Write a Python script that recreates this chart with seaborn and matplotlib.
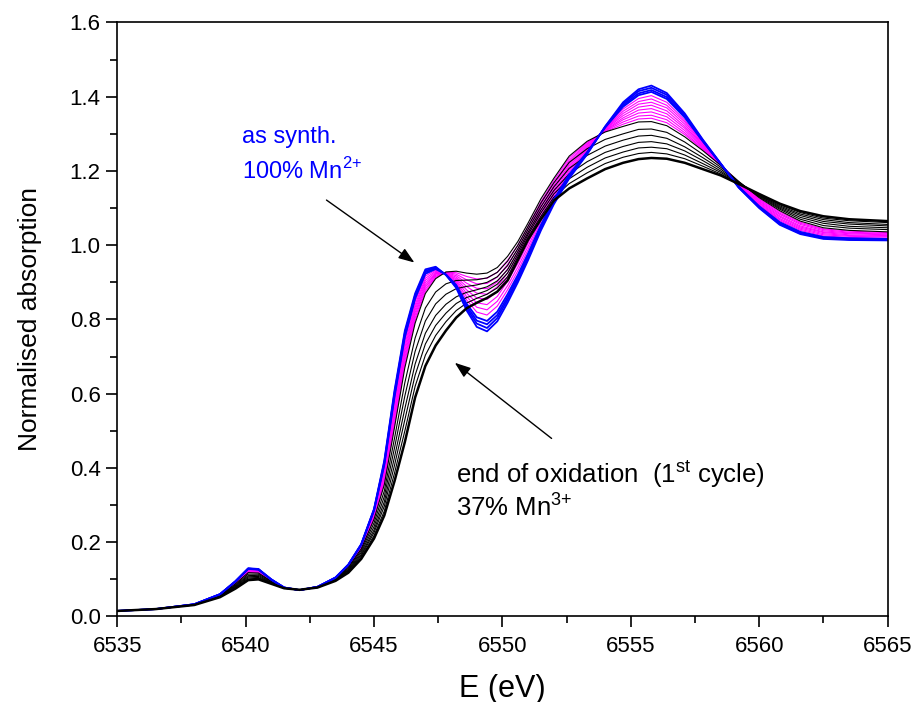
import pandas as pd
import matplotlib.pyplot as plt
import seaborn as sns
from matplotlib.ticker import MultipleLocator

# Energy grid (eV)
energy = [6535, 6536.5, 6538, 6539, 6539.6, 6540.1, 6540.5, 6541, 6541.5, 6542.1,
          6542.8, 6543.5, 6544, 6544.5, 6545, 6545.4, 6545.8, 6546.2, 6546.6, 6547,
          6547.4, 6547.8, 6548.2, 6548.6, 6549, 6549.4, 6549.8, 6550.2, 6550.6, 6551,
          6551.5, 6552, 6552.6, 6553.3, 6554, 6554.7, 6555.3, 6555.8, 6556.4, 6557.1,
          6557.8, 6558.5, 6559.2, 6560, 6560.8, 6561.6, 6562.5, 6563.5, 6565]

# as synthesised spectra (blue)
blue_1 = [0.015, 0.020, 0.033, 0.060, 0.095, 0.130, 0.128, 0.100, 0.078, 0.071,
          0.080, 0.105, 0.140, 0.195, 0.290, 0.420, 0.610, 0.770, 0.870, 0.935,
          0.942, 0.920, 0.885, 0.825, 0.780, 0.768, 0.795, 0.845, 0.900, 0.960,
          1.040, 1.110, 1.180, 1.245, 1.320, 1.385, 1.420, 1.430, 1.410, 1.355,
          1.285, 1.220, 1.155, 1.100, 1.055, 1.030, 1.017, 1.014, 1.013]
blue_2 = [0.015, 0.020, 0.033, 0.060, 0.095, 0.129, 0.127, 0.100, 0.078, 0.071,
          0.080, 0.105, 0.140, 0.194, 0.288, 0.416, 0.604, 0.764, 0.865, 0.931,
          0.940, 0.920, 0.888, 0.831, 0.789, 0.777, 0.804, 0.853, 0.907, 0.966,
          1.045, 1.114, 1.184, 1.247, 1.319, 1.381, 1.415, 1.424, 1.405, 1.351,
          1.283, 1.220, 1.156, 1.102, 1.057, 1.032, 1.019, 1.016, 1.014]
blue_3 = [0.015, 0.020, 0.033, 0.060, 0.094, 0.129, 0.127, 0.099, 0.078, 0.071,
          0.080, 0.105, 0.139, 0.193, 0.287, 0.412, 0.598, 0.758, 0.860, 0.927,
          0.938, 0.921, 0.890, 0.837, 0.797, 0.787, 0.812, 0.860, 0.913, 0.972,
          1.050, 1.118, 1.187, 1.249, 1.318, 1.377, 1.409, 1.418, 1.399, 1.347,
          1.281, 1.219, 1.157, 1.103, 1.060, 1.034, 1.021, 1.017, 1.016]
blue_4 = [0.015, 0.020, 0.033, 0.060, 0.094, 0.128, 0.126, 0.099, 0.078, 0.071,
          0.080, 0.104, 0.139, 0.193, 0.285, 0.408, 0.592, 0.752, 0.856, 0.923,
          0.936, 0.921, 0.893, 0.843, 0.806, 0.796, 0.821, 0.868, 0.920, 0.978,
          1.055, 1.123, 1.191, 1.251, 1.317, 1.373, 1.404, 1.413, 1.394, 1.344,
          1.280, 1.219, 1.158, 1.105, 1.062, 1.036, 1.022, 1.019, 1.017]

# first charge spectra (magenta)
magenta_1 = [0.015, 0.020, 0.033, 0.059, 0.093, 0.127, 0.125, 0.099, 0.078, 0.071,
             0.080, 0.104, 0.138, 0.191, 0.282, 0.402, 0.582, 0.742, 0.848, 0.917,
             0.933, 0.922, 0.898, 0.853, 0.820, 0.812, 0.836, 0.880, 0.931, 0.988,
             1.064, 1.130, 1.197, 1.255, 1.316, 1.367, 1.395, 1.403, 1.385, 1.337,
             1.277, 1.219, 1.160, 1.108, 1.066, 1.040, 1.025, 1.021, 1.019]
magenta_2 = [0.015, 0.020, 0.033, 0.059, 0.092, 0.126, 0.124, 0.098, 0.078, 0.071,
             0.080, 0.104, 0.137, 0.190, 0.280, 0.396, 0.573, 0.733, 0.840, 0.911,
             0.930, 0.923, 0.902, 0.862, 0.833, 0.826, 0.849, 0.891, 0.941, 0.997,
             1.071, 1.136, 1.202, 1.258, 1.314, 1.361, 1.387, 1.394, 1.377, 1.332,
             1.274, 1.218, 1.161, 1.110, 1.069, 1.043, 1.028, 1.024, 1.022]
magenta_3 = [0.015, 0.020, 0.033, 0.059, 0.092, 0.124, 0.123, 0.098, 0.078, 0.071,
             0.080, 0.104, 0.137, 0.189, 0.277, 0.390, 0.564, 0.724, 0.833, 0.905,
             0.927, 0.924, 0.906, 0.871, 0.845, 0.840, 0.862, 0.903, 0.951, 1.006,
             1.079, 1.142, 1.208, 1.261, 1.313, 1.355, 1.380, 1.385, 1.370, 1.326,
             1.271, 1.218, 1.163, 1.113, 1.072, 1.046, 1.031, 1.026, 1.024]
magenta_4 = [0.015, 0.020, 0.032, 0.059, 0.091, 0.123, 0.122, 0.097, 0.077, 0.071,
             0.079, 0.103, 0.136, 0.188, 0.275, 0.384, 0.555, 0.715, 0.826, 0.899,
             0.924, 0.924, 0.910, 0.880, 0.858, 0.854, 0.875, 0.914, 0.961, 1.015,
             1.087, 1.149, 1.213, 1.264, 1.312, 1.349, 1.372, 1.377, 1.362, 1.320,
             1.269, 1.217, 1.164, 1.115, 1.076, 1.049, 1.034, 1.028, 1.026]
magenta_5 = [0.015, 0.020, 0.032, 0.059, 0.091, 0.122, 0.121, 0.097, 0.077, 0.071,
             0.079, 0.103, 0.136, 0.187, 0.272, 0.378, 0.546, 0.706, 0.819, 0.893,
             0.922, 0.925, 0.914, 0.889, 0.871, 0.868, 0.888, 0.925, 0.970, 1.024,
             1.094, 1.155, 1.218, 1.267, 1.310, 1.343, 1.364, 1.368, 1.354, 1.315,
             1.266, 1.217, 1.166, 1.118, 1.079, 1.052, 1.036, 1.031, 1.028]
magenta_6 = [0.015, 0.020, 0.032, 0.059, 0.090, 0.121, 0.120, 0.096, 0.077, 0.071,
             0.079, 0.103, 0.135, 0.186, 0.270, 0.373, 0.537, 0.697, 0.812, 0.888,
             0.919, 0.926, 0.918, 0.898, 0.884, 0.883, 0.901, 0.936, 0.980, 1.033,
             1.102, 1.161, 1.224, 1.271, 1.309, 1.338, 1.356, 1.359, 1.346, 1.309,
             1.263, 1.216, 1.167, 1.120, 1.083, 1.056, 1.039, 1.033, 1.030]
magenta_7 = [0.015, 0.020, 0.032, 0.058, 0.089, 0.120, 0.119, 0.096, 0.077, 0.071,
             0.079, 0.103, 0.134, 0.184, 0.267, 0.367, 0.528, 0.688, 0.804, 0.882,
             0.916, 0.927, 0.922, 0.907, 0.896, 0.897, 0.914, 0.948, 0.990, 1.042,
             1.110, 1.167, 1.229, 1.274, 1.308, 1.332, 1.348, 1.350, 1.338, 1.303,
             1.260, 1.216, 1.169, 1.123, 1.086, 1.059, 1.042, 1.035, 1.032]
magenta_8 = [0.015, 0.020, 0.032, 0.058, 0.089, 0.119, 0.118, 0.095, 0.077, 0.071,
             0.079, 0.102, 0.134, 0.183, 0.265, 0.361, 0.519, 0.679, 0.797, 0.876,
             0.913, 0.927, 0.926, 0.916, 0.909, 0.911, 0.927, 0.959, 1.000, 1.051,
             1.117, 1.174, 1.235, 1.277, 1.306, 1.326, 1.340, 1.342, 1.330, 1.298,
             1.258, 1.215, 1.170, 1.125, 1.090, 1.062, 1.044, 1.038, 1.034]

# later charge spectra (thin black)
black_1 = [0.015, 0.020, 0.032, 0.058, 0.088, 0.118, 0.117, 0.095, 0.077, 0.071,
           0.079, 0.102, 0.133, 0.182, 0.262, 0.355, 0.510, 0.670, 0.790, 0.870,
           0.910, 0.928, 0.930, 0.925, 0.922, 0.925, 0.940, 0.970, 1.010, 1.060,
           1.125, 1.180, 1.240, 1.280, 1.305, 1.320, 1.332, 1.333, 1.322, 1.292,
           1.255, 1.215, 1.172, 1.128, 1.093, 1.065, 1.047, 1.040, 1.036]
black_2 = [0.015, 0.020, 0.032, 0.057, 0.085, 0.114, 0.114, 0.094, 0.077, 0.071,
           0.079, 0.101, 0.130, 0.177, 0.252, 0.338, 0.481, 0.630, 0.750, 0.831,
           0.874, 0.896, 0.905, 0.906, 0.907, 0.912, 0.927, 0.957, 1.000, 1.051,
           1.114, 1.168, 1.223, 1.260, 1.285, 1.300, 1.312, 1.313, 1.304, 1.278,
           1.245, 1.210, 1.171, 1.130, 1.097, 1.070, 1.053, 1.046, 1.042]
black_3 = [0.015, 0.020, 0.032, 0.056, 0.083, 0.110, 0.111, 0.092, 0.077, 0.071,
           0.079, 0.100, 0.127, 0.172, 0.242, 0.323, 0.455, 0.594, 0.714, 0.796,
           0.842, 0.868, 0.883, 0.889, 0.893, 0.900, 0.915, 0.945, 0.991, 1.043,
           1.104, 1.157, 1.207, 1.242, 1.267, 1.283, 1.294, 1.296, 1.288, 1.265,
           1.236, 1.205, 1.169, 1.132, 1.100, 1.075, 1.059, 1.051, 1.047]
black_4 = [0.015, 0.020, 0.031, 0.055, 0.081, 0.107, 0.108, 0.091, 0.076, 0.072,
           0.078, 0.099, 0.125, 0.167, 0.233, 0.309, 0.430, 0.560, 0.680, 0.763,
           0.811, 0.841, 0.861, 0.873, 0.880, 0.888, 0.904, 0.934, 0.983, 1.035,
           1.095, 1.147, 1.192, 1.225, 1.250, 1.266, 1.277, 1.279, 1.273, 1.254,
           1.228, 1.200, 1.168, 1.134, 1.103, 1.080, 1.064, 1.057, 1.052]
black_5 = [0.015, 0.020, 0.031, 0.054, 0.079, 0.104, 0.105, 0.090, 0.076, 0.072,
           0.078, 0.098, 0.123, 0.163, 0.226, 0.297, 0.408, 0.530, 0.650, 0.734,
           0.784, 0.817, 0.843, 0.859, 0.868, 0.878, 0.895, 0.925, 0.975, 1.029,
           1.087, 1.138, 1.179, 1.210, 1.235, 1.251, 1.262, 1.264, 1.260, 1.243,
           1.220, 1.196, 1.167, 1.135, 1.106, 1.084, 1.069, 1.061, 1.056]
black_6 = [0.015, 0.020, 0.031, 0.053, 0.077, 0.101, 0.103, 0.089, 0.076, 0.072,
           0.078, 0.097, 0.120, 0.159, 0.218, 0.284, 0.387, 0.500, 0.620, 0.704,
           0.757, 0.794, 0.824, 0.844, 0.857, 0.868, 0.885, 0.915, 0.968, 1.022,
           1.078, 1.129, 1.166, 1.195, 1.220, 1.237, 1.247, 1.250, 1.246, 1.233,
           1.213, 1.192, 1.166, 1.137, 1.109, 1.088, 1.073, 1.066, 1.061]

# end of oxidation (thick black)
end_oxidation = [0.015, 0.020, 0.031, 0.052, 0.075, 0.098, 0.100, 0.088, 0.076, 0.072,
                 0.078, 0.096, 0.118, 0.155, 0.210, 0.272, 0.365, 0.470, 0.590, 0.675,
                 0.730, 0.770, 0.805, 0.830, 0.845, 0.858, 0.875, 0.905, 0.960, 1.015,
                 1.070, 1.120, 1.153, 1.180, 1.205, 1.222, 1.232, 1.235, 1.233, 1.222,
                 1.205, 1.188, 1.165, 1.138, 1.112, 1.092, 1.078, 1.070, 1.065]

groups = {
    "magenta": [magenta_1, magenta_2, magenta_3, magenta_4, magenta_5, magenta_6, magenta_7, magenta_8],
    "black": [black_1, black_2, black_3, black_4, black_5, black_6],
    "blue": [blue_1, blue_2, blue_3, blue_4],
    "end": [end_oxidation],
}

# Long-form table
rows = []
for grp, curves in groups.items():
    for i, curve in enumerate(curves):
        for e, mu in zip(energy, curve):
            rows.append({"group": grp, "curve": f"{grp}_{i}", "E": e, "mu": mu})
df = pd.DataFrame(rows)

sns.set_theme(style="ticks")
plt.rcParams["font.family"] = ["Liberation Sans", "DejaVu Sans"]
plt.rcParams["text.color"] = "black"
plt.rcParams["axes.labelcolor"] = "black"

fig = plt.figure(figsize=(9.16, 7.02), dpi=100)
ax = fig.add_axes([0.128, 0.1218, 0.841, 0.8462])

styles = {
    "magenta": ("#FF00FF", 0.8),
    "black": ("black", 0.8),
    "blue": ("#0000FF", 1.3),
    "end": ("black", 1.8),
}
for grp, (col, lw) in styles.items():
    sns.lineplot(data=df[df["group"] == grp], x="E", y="mu", units="curve",
                 estimator=None, color=col, lw=lw, sort=False, ax=ax)

ax.set_xlim(6535, 6565)
ax.set_ylim(0, 1.6)
ax.xaxis.set_major_locator(MultipleLocator(5))
ax.xaxis.set_minor_locator(MultipleLocator(2.5))
ax.yaxis.set_major_locator(MultipleLocator(0.2))
ax.yaxis.set_minor_locator(MultipleLocator(0.1))
ax.yaxis.set_major_formatter(plt.FormatStrFormatter("%.1f"))
ax.tick_params(which="major", direction="out", length=8, width=1.2, labelsize=16,
               pad=4, color="black", labelcolor="black")
ax.tick_params(which="minor", direction="out", length=5, width=1.2, color="black")
ax.tick_params(axis="x", which="major", pad=6)
for sp in ax.spines.values():
    sp.set_visible(True)
    sp.set_linewidth(1.2)
    sp.set_color("black")

ax.set_xlabel("E (eV)", fontsize=22, labelpad=12)
ax.set_ylabel("Normalised absorption", fontsize=19, labelpad=20)

# Annotations
ax.text(6539.84, 1.275, "as synth.", color="#0000FF", fontsize=17)
ax.text(6539.84, 1.178, r"100% Mn$^{\mathregular{2{+}}}$", color="#0000FF", fontsize=17)
ax.annotate("", xy=(6546.66, 0.949), xytext=(6543.06, 1.126),
            arrowprops=dict(arrowstyle="-|>,head_length=0.6,head_width=0.22",
                            color="black", lw=1.0, mutation_scale=16))

ax.text(6548.2, 0.359, r"end of oxidation  (1$^{\mathregular{st}}$ cycle)", color="black", fontsize=18.5)
ax.text(6548.2, 0.273, r"37% Mn$^{\mathregular{3{+}}}$", color="black", fontsize=18.5)
ax.annotate("", xy=(6548.06, 0.688), xytext=(6552.0, 0.475),
            arrowprops=dict(arrowstyle="-|>,head_length=0.6,head_width=0.22",
                            color="black", lw=1.0, mutation_scale=16))

fig.savefig("out.png", dpi=100)
